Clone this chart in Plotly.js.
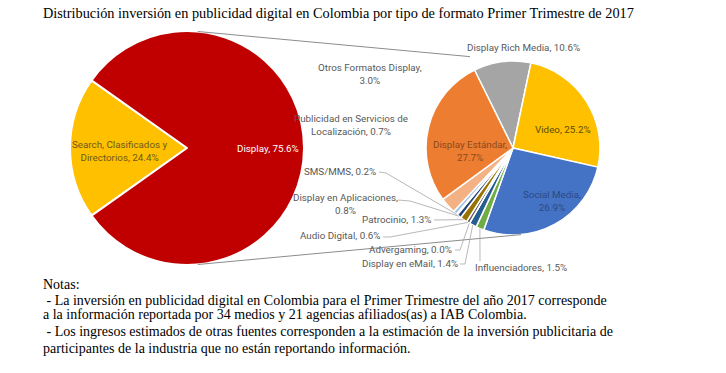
<!DOCTYPE html>
<html><head><meta charset="utf-8">
<script src="https://cdn.plot.ly/plotly-3.0.1.min.js"></script>
<style>html,body{margin:0;padding:0;background:#fff}#chart{width:726px;height:373px}</style>
</head><body><div id="chart"></div>
<script>
// ---------- DATA ----------
const mainLabels = ['Search, Clasificados y Directorios', 'Display'];
const mainShares = [24.4, 75.6];
const subLabels = ['Display Rich Media', 'Video', 'Social Media', 'Influenciadores', 'Display en eMail',
  'Advergaming', 'Audio Digital', 'Patrocinio', 'Display en Aplicaciones', 'SMS/MMS',
  'Publicidad en Servicios de Localización', 'Otros Formatos Display', 'Display Estándar'];
const subValues = [10.6, 25.2, 26.9, 1.5, 1.4, 0.0, 0.6, 1.3, 0.8, 0.2, 0.7, 3.0, 27.7];
const titleText = 'Distribución inversión en publicidad digital en Colombia por tipo de formato Primer Trimestre de 2017';
const noteLines = [
  'Notas:',
  ' - La inversión en publicidad digital en Colombia para el Primer Trimestre del año 2017 corresponde',
  'a la información reportada por 34 medios y 21 agencias afiliados(as) a IAB Colombia.',
  ' - Los ingresos estimados de otras fuentes corresponden a la estimación de la inversión publicitaria de',
  'participantes de la industria que no están reportando información.'
];

// ---------- STYLE / LAYOUT ----------
const W = 726, H = 373;
const px = x => x / W, py = y => 1 - y / H;
const mainColors = ['#FFC000', '#C00000'];
const subColors = ['#A5A5A5', '#FFC000', '#4472C4', '#70AD47', '#255E91', '#43682B', '#636363',
  '#997300', '#264478', '#7F7F7F', '#9DC3E6', '#F4B183', '#ED7D31'];
const C1 = {x: 187, y: 148, r: 117};
const C2 = {x: 513, y: 148, r: 87};
const subRotation = -26.3;
const labelFont = 'Roboto, "Liberation Sans", sans-serif';
const labelGray = '#595959';

// label positions (pixels), break text, leader start points
const subLabelLayout = [
  {x: 523, y: 48},
  {x: 563, y: 129, color: '#5E4B00'},
  {x: 552, y: 201, color: '#2C4A85', brk: 'Media, '},
  {x: 521, y: 267, leader: [[480, 261]]},
  {x: 410, y: 263, leader: [[460, 264], [465, 264]]},
  {x: 410, y: 249, leader: [[455, 250], [460, 250]]},
  {x: 340, y: 235, leader: [[383, 237], [390, 237]]},
  {x: 397, y: 220, leader: [[434, 220]]},
  {x: 345, y: 204, brk: 'Aplicaciones, ', leader: [[398, 200], [410, 201]]},
  {x: 340, y: 171, leader: [[379, 172], [386, 173]]},
  {x: 351, y: 125, brk: 'Servicios de '},
  {x: 370, y: 74, brk: 'Display, '},
  {x: 470, y: 151, color: '#8A4A1E', brk: 'Estándar, '}
];
const mainLabelLayout = [
  {x: 119, y: 151, color: '#6E5A1E', brk: 'Clasificados y '},
  {x: 268, y: 148, color: '#FFFFFF'}
];

function fmt(label, v, brk) {
  let t = label + ', ' + v.toFixed(1) + '%';
  if (brk) t = t.replace(brk, brk.trim() + '<br>');
  return t;
}

const mainValues = [mainShares[0], subValues.reduce((a, b) => a + b, 0)];
const mainRotation = 270 - (mainValues[0] / (mainValues[0] + mainValues[1])) * 360 / 2;

const traces = [
  {
    type: 'pie', values: mainValues, labels: mainLabels, sort: false, direction: 'clockwise',
    rotation: mainRotation, textinfo: 'none', hoverinfo: 'none',
    marker: {colors: mainColors, line: {color: '#FFFFFF', width: 2}},
    domain: {x: [px(C1.x - C1.r), px(C1.x + C1.r)], y: [py(C1.y + C1.r), py(C1.y - C1.r)]}
  },
  {
    type: 'pie', values: subValues, labels: subLabels, sort: false, direction: 'clockwise',
    rotation: subRotation, textinfo: 'none', hoverinfo: 'none',
    marker: {colors: subColors, line: {color: '#FFFFFF', width: 1.5}},
    domain: {x: [px(C2.x - C2.r), px(C2.x + C2.r)], y: [py(C2.y + C2.r), py(C2.y - C2.r)]}
  }
];

const annotations = [];
const shapes = [];

annotations.push({
  xref: 'paper', yref: 'paper', x: px(41), y: py(13), xanchor: 'left', yanchor: 'middle',
  text: titleText, showarrow: false,
  font: {family: '"Liberation Serif", serif', size: 14.3, color: '#000'}
});
const noteY = [284, 300, 315, 331, 348];
noteLines.forEach((t, i) => annotations.push({
  xref: 'paper', yref: 'paper', x: px(41), y: py(noteY[i]), xanchor: 'left', yanchor: 'middle',
  text: t.replace(/^ /, '&nbsp;'), showarrow: false,
  font: {family: '"Liberation Serif", serif', size: 14, color: '#000'}
}));

mainLabels.forEach((l, i) => {
  const L = mainLabelLayout[i];
  annotations.push({
    xref: 'paper', yref: 'paper', x: px(L.x), y: py(L.y), xanchor: 'center', yanchor: 'middle',
    text: fmt(l, mainShares[i], L.brk), showarrow: false, align: 'center',
    font: {family: labelFont, size: 9.8, color: L.color}
  });
});

// connector lines (external tangents of the two circles)
const d = C2.x - C1.x;
const th = Math.asin((C1.r - C2.r) / d);
const s = Math.sin(th), c = Math.cos(th);
const topA = [C1.x + C1.r * s, C1.y - C1.r * c];
const topB = [C2.x + C2.r * s, C2.y - C2.r * c];
const botA = [C1.x + C1.r * s, C1.y + C1.r * c];
const botB = [C2.x + C2.r * s, C2.y + C2.r * c];
const topEndX = 470;
const topEnd = [topEndX, topA[1] + (topEndX - topA[0]) * (topB[1] - topA[1]) / (topB[0] - topA[0])];
[[topA, topEnd], [botA, botB]].forEach(([a, b]) => shapes.push({
  type: 'line', xref: 'paper', yref: 'paper', x0: px(a[0]), y0: py(a[1]), x1: px(b[0]), y1: py(b[1]),
  line: {color: '#8C8C8C', width: 1}
}));

// sub labels + leaders
const total = subValues.reduce((a, b) => a + b, 0);
let cum = 0;
subLabels.forEach((l, i) => {
  const L = subLabelLayout[i];
  const mid = subRotation + (cum + subValues[i] / 2) / total * 360;
  cum += subValues[i];
  annotations.push({
    xref: 'paper', yref: 'paper', x: px(L.x), y: py(L.y), xanchor: 'center', yanchor: 'middle',
    text: fmt(l, subValues[i], L.brk), showarrow: false, align: 'center',
    font: {family: labelFont, size: 9.8, color: L.color || labelGray}
  });
  if (L.leader) {
    const a = mid * Math.PI / 180;
    const end = [C2.x + C2.r * Math.sin(a), C2.y - C2.r * Math.cos(a)];
    const pts = L.leader.concat([end]);
    for (let k = 0; k < pts.length - 1; k++) {
      shapes.push({
        type: 'line', xref: 'paper', yref: 'paper',
        x0: px(pts[k][0]), y0: py(pts[k][1]), x1: px(pts[k + 1][0]), y1: py(pts[k + 1][1]),
        line: {color: '#A6A6A6', width: 0.8}
      });
    }
  }
});

const layout = {
  width: W, height: H, margin: {l: 0, r: 0, t: 0, b: 0},
  paper_bgcolor: '#FFFFFF', showlegend: false,
  annotations: annotations, shapes: shapes
};
Plotly.newPlot('chart', traces, layout, {staticPlot: true, displayModeBar: false});
</script>
</body></html>
